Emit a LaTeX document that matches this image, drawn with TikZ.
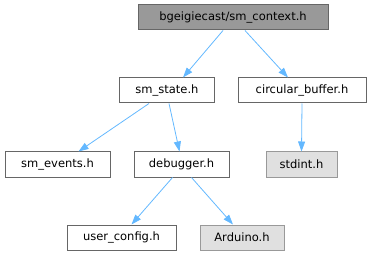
\documentclass[tikz,border=0pt]{standalone}
\usepackage{fontspec}
\setmainfont{DejaVu Sans}
\usetikzlibrary{arrows.meta}
\definecolor{edgeblue}{HTML}{63B8FF}
\definecolor{frame}{HTML}{666666}
\definecolor{sysframe}{HTML}{999999}
\definecolor{sysfill}{HTML}{E0E0E0}
\definecolor{rootfill}{HTML}{999999}
\tikzset{
  file/.style={draw=frame, fill=white, line width=1pt, minimum height=25pt,
    inner sep=0pt, font=\fontsize{11.5}{13}\selectfont},
  sysfile/.style={file, draw=sysframe, fill=sysfill},
  rootfile/.style={file, fill=rootfill},
  edge/.style={draw=edgeblue, line width=0.8pt, -{Triangle[length=10pt,width=7pt]}}
}
\begin{document}
\begin{tikzpicture}[x=1pt,y=-1pt]
  \useasboundingbox (0,0) rectangle (371,256);
  \node[rootfile, minimum width=190pt] (ctx) at (233,17.5) {bgeigiecast/sm\_context.h};
  \node[file, minimum width=95pt] (state) at (167,90.5) {sm\_state.h};
  \node[file, minimum width=128pt] (cbuf) at (302,90.5) {circular\_buffer.h};
  \node[file, minimum width=105pt] (events) at (57.5,164.5) {sm\_events.h};
  \node[file, minimum width=95pt] (dbg) at (181.5,164.5) {debugger.h};
  \node[sysfile, minimum width=71pt] (stdint) at (301.5,164.5) {stdint.h};
  \node[file, minimum width=109pt] (ucfg) at (121.5,237.5) {user\_config.h};
  \node[sysfile, minimum width=84pt] (ard) at (242,237.5) {Arduino.h};

  \draw[edge] ([xshift=-10pt]ctx.south) -- ([xshift=16pt]state.north);
  \draw[edge] ([xshift=12pt]ctx.south) -- ([xshift=-14pt]cbuf.north);
  \draw[edge] ([xshift=-18pt]state.south) -- ([xshift=21pt]events.north);
  \draw[edge] ([xshift=2pt]state.south) -- ([xshift=-2pt]dbg.north);
  \draw[edge] (cbuf.south) -- (stdint.north);
  \draw[edge] ([xshift=-9pt]dbg.south) -- ([xshift=10pt]ucfg.north);
  \draw[edge] ([xshift=10pt]dbg.south) -- ([xshift=-9pt]ard.north);
\end{tikzpicture}
\end{document}
